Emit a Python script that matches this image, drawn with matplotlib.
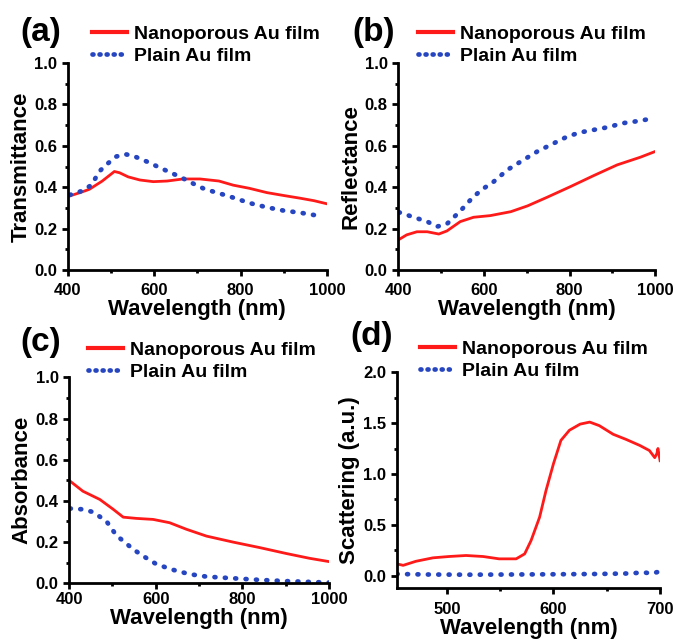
import matplotlib
matplotlib.use("Agg")
import matplotlib.pyplot as plt
from matplotlib.ticker import MultipleLocator

plt.rcParams['font.family'] = ['Liberation Sans', 'DejaVu Sans']
plt.rcParams['font.weight'] = 'bold'

RED = '#ff1a1a'
BLUE = '#2645c0'
labels = ["Nanoporous Au film", "Plain Au film"]

# (a) transmittance
wl_a_np = [400, 430, 450, 480, 508, 520, 540, 567, 598, 630, 667, 706, 750, 783, 820, 861, 900, 938, 970, 1000]
tr_np = [0.355, 0.375, 0.39, 0.43, 0.476, 0.47, 0.45, 0.435, 0.427, 0.43, 0.44, 0.44, 0.43, 0.41, 0.395, 0.374, 0.36, 0.347, 0.335, 0.32]
wl_a_pl = [405, 430, 455, 473, 490, 512, 532, 551, 583, 621, 660, 692, 713, 744, 768, 822, 861, 900, 938, 984]
tr_pl = [0.363, 0.38, 0.41, 0.476, 0.51, 0.548, 0.56, 0.552, 0.524, 0.487, 0.45, 0.416, 0.395, 0.374, 0.36, 0.323, 0.303, 0.287, 0.277, 0.261]

# (b) reflectance
wl_b_np = [400, 420, 444, 468, 495, 514, 545, 576, 615, 663, 702, 748, 802, 856, 911, 965, 1000]
re_np = [0.145, 0.17, 0.185, 0.185, 0.174, 0.189, 0.234, 0.255, 0.263, 0.282, 0.31, 0.352, 0.403, 0.456, 0.508, 0.545, 0.573]
wl_b_pl = [402, 421, 444, 468, 491, 514, 545, 576, 600, 623, 655, 690, 725, 756, 795, 825, 856, 887, 926, 965, 996]
re_pl = [0.279, 0.266, 0.25, 0.234, 0.21, 0.223, 0.285, 0.355, 0.395, 0.427, 0.484, 0.529, 0.573, 0.605, 0.645, 0.665, 0.677, 0.689, 0.71, 0.721, 0.734]

# (c) absorbance
wl_c_np = [400, 432, 471, 502, 525, 555, 594, 632, 671, 717, 778, 840, 902, 955, 1000]
ab_np = [0.50, 0.447, 0.407, 0.359, 0.321, 0.315, 0.31, 0.294, 0.262, 0.229, 0.2, 0.173, 0.144, 0.121, 0.105]
wl_c_pl = [402, 432, 455, 486, 509, 548, 571, 602, 640, 678, 717, 778, 840, 902, 1000]
ab_pl = [0.363, 0.359, 0.346, 0.302, 0.233, 0.165, 0.132, 0.092, 0.065, 0.044, 0.032, 0.024, 0.016, 0.01, 0.003]

# (d) scattering
wl_d_np = [453, 459, 471, 487, 502, 518, 534, 549, 565, 573, 579, 587, 593, 600, 607, 615, 625, 634, 643, 656, 668, 681, 690, 695, 697, 698, 700]
sc_np = [0.115, 0.10, 0.14, 0.174, 0.187, 0.197, 0.187, 0.164, 0.164, 0.213, 0.344, 0.574, 0.836, 1.10, 1.33, 1.43, 1.49, 1.51, 1.475, 1.39, 1.34, 1.28, 1.23, 1.16, 1.2, 1.25, 1.13]
wl_d_pl = [453, 480, 520, 560, 600, 640, 670, 685, 692, 700]
sc_pl = [0.015, 0.01, 0.008, 0.01, 0.012, 0.015, 0.02, 0.03, 0.02, 0.04]

fig = plt.figure(figsize=(6.77, 6.43), dpi=100)

panels = [
    dict(pos=[0.100, 0.580, 0.383, 0.322], x=(wl_a_np, wl_a_pl), y=(tr_np, tr_pl), ylab="Transmittance",
         xlim=(400, 1000), ylim=(0, 1.0), xmaj=200, xmin=100, ymaj=0.2, ymin=0.1, tag="(a)",
         tagxy=(20, 33), leg=(92, 45), pad=5),
    dict(pos=[0.588, 0.580, 0.380, 0.322], x=(wl_b_np, wl_b_pl), y=(re_np, re_pl), ylab="Reflectance",
         xlim=(400, 1000), ylim=(0, 1.0), xmaj=200, xmin=100, ymaj=0.2, ymin=0.1, tag="(b)",
         tagxy=(352, 33), leg=(418, 45), pad=5),
    dict(pos=[0.102, 0.093, 0.384, 0.320], x=(wl_c_np, wl_c_pl), y=(ab_np, ab_pl), ylab="Absorbance",
         xlim=(400, 1000), ylim=(0, 1.0), xmaj=200, xmin=100, ymaj=0.2, ymin=0.1, tag="(c)",
         tagxy=(20, 342), leg=(88, 361), pad=2),
    dict(pos=[0.586, 0.086, 0.389, 0.335], x=(wl_d_np, wl_d_pl), y=(sc_np, sc_pl), ylab="Scattering (a.u.)",
         xlim=(453, 700), ylim=(-0.12, 2.0), xmaj=100, xmin=50, ymaj=0.5, ymin=0.25, tag="(d)",
         tagxy=(350, 337), leg=(420, 360), pad=6),
]

W, H = 677.0, 643.0
for p in panels:
    ax = fig.add_axes(p['pos'])
    ax.plot(p['x'][0], p['y'][0], color=RED, lw=2.0, label=labels[0])
    ax.plot(p['x'][1], p['y'][1], color=BLUE, lw=3.4, linestyle=(0, (0.2, 2.0)),
            dash_capstyle='round', label=labels[1])
    ax.set_xlim(*p['xlim'])
    ax.set_ylim(*p['ylim'])
    ax.xaxis.set_major_locator(MultipleLocator(p['xmaj']))
    ax.xaxis.set_minor_locator(MultipleLocator(p['xmin']))
    ax.yaxis.set_major_locator(MultipleLocator(p['ymaj']))
    ax.yaxis.set_minor_locator(MultipleLocator(p['ymin']))
    ax.yaxis.set_major_formatter(matplotlib.ticker.FormatStrFormatter('%.1f'))
    for s in ['top', 'right']:
        ax.spines[s].set_visible(False)
    for s in ['left', 'bottom']:
        ax.spines[s].set_linewidth(2.0)
    ax.tick_params(which='major', length=4, width=2, labelsize=12)
    ax.tick_params(which='minor', length=2.5, width=2)
    ax.tick_params(axis='x', pad=p['pad'])
    ax.set_xlabel("Wavelength (nm)", fontsize=16, fontweight='bold', labelpad=1)
    ax.set_ylabel(p['ylab'], fontsize=16, fontweight='bold', labelpad=2)
    fig.text(p['tagxy'][0] / W, 1 - p['tagxy'][1] / H, p['tag'], fontsize=24, fontweight='bold',
             ha='left', va='center')
    leg = ax.legend(loc='center left', bbox_to_anchor=(p['leg'][0] / W, 1 - p['leg'][1] / H),
                    bbox_transform=fig.transFigure, frameon=False, fontsize=14, borderpad=0,
                    borderaxespad=0, handlelength=1.8, handletextpad=0.35, labelspacing=0.2)
    # thicker handle and denser dots in the legend sample, as in the original
    leg.get_lines()[0].set_linewidth(3.0)
    leg.get_lines()[1].set_linestyle((0, (0.2, 1.3)))

fig.savefig("out.png", dpi=100)
